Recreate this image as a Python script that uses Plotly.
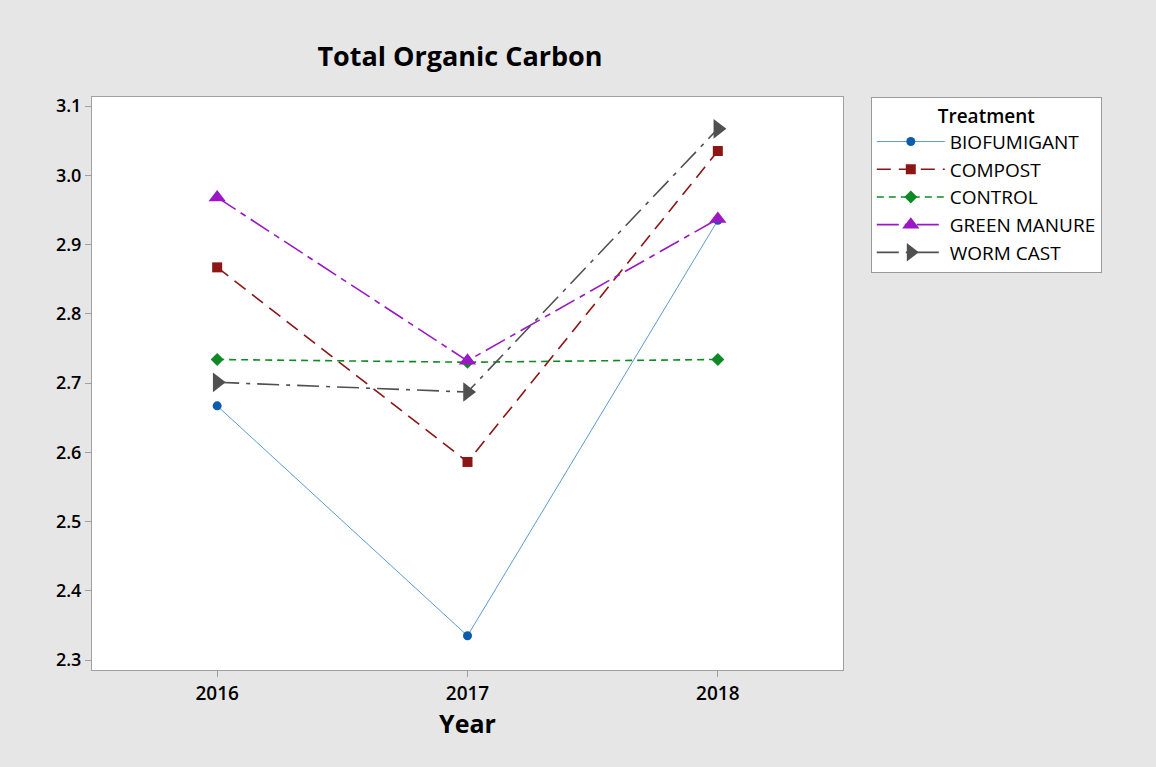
import plotly.graph_objects as go

years = [2016, 2017, 2018]
treatments = ["BIOFUMIGANT", "COMPOST", "CONTROL", "GREEN MANURE", "WORM CAST"]
biofumigant = [2.667, 2.335, 2.935]
compost = [2.867, 2.586, 3.035]
control = [2.734, 2.730, 2.734]
green_manure = [2.968, 2.732, 2.937]
worm_cast = [2.701, 2.687, 3.067]
series = [biofumigant, compost, control, green_manure, worm_cast]
y_ticks = [2.3, 2.4, 2.5, 2.6, 2.7, 2.8, 2.9, 3.0, 3.1]

line_colors = ["#5b9bd5", "#8c1515", "#0e8a25", "#9a19c4", "#505050"]
marker_colors = ["#0b5cad", "#8c1515", "#0e8a25", "#9a19c4", "#505050"]
dashes = ["solid", "14px,8px", "7px,5px", "22px,6px,6px,6px", "22px,7px,4px,7px"]
widths = [1, 1.6, 1.6, 1.6, 1.6]
symbols = ["circle", "square", "diamond", "triangle-up", "triangle-right"]
sizes = [9, 10, 10, 15, 17]

fig = go.Figure()
for name, vals, lc, mc, d, w, s, sz in zip(treatments, series, line_colors, marker_colors, dashes, widths, symbols, sizes):
    fig.add_trace(go.Scatter(
        x=years, y=vals, name=name, mode="lines+markers",
        line=dict(color=lc, dash=d, width=w),
        marker=dict(color=mc, symbol=s, size=sz, line=dict(width=0)),
    ))

FONT = "Open Sans, Noto Sans, sans-serif"
fig.update_layout(
    width=1156, height=767,
    paper_bgcolor="#e6e6e6", plot_bgcolor="white",
    margin=dict(l=92, r=313, t=97, b=97),
    font=dict(family=FONT, color="black"),
    title=dict(text="Total Organic Carbon", x=460 / 1156, xanchor="center",
               y=1 - 57 / 767, yanchor="middle",
               font=dict(size=27, family=FONT, weight=700)),
    legend=dict(
        title=dict(text="Treatment", font=dict(size=19, weight=600), side="top center"),
        x=1.037, xanchor="left", y=1.0, yanchor="top",
        bgcolor="white", bordercolor="#9a9a9a", borderwidth=1,
        font=dict(size=19, weight=500), tracegroupgap=0, itemwidth=68,
    ),
    showlegend=True,
)
fig.update_xaxes(
    range=[2015.5, 2018.5], tickvals=years, ticktext=[str(y) for y in years],
    showgrid=False, zeroline=False, showline=True, linecolor="#a0a0a0", mirror=True,
    ticks="outside", tickcolor="#a0a0a0", ticklen=6,
    tickfont=dict(size=19, weight=600),
    title=dict(text="Year", font=dict(size=25, weight=700), standoff=10),
)
fig.update_yaxes(
    range=[2.2856, 3.113], tickvals=y_ticks,
    ticktext=[f"{v:.1f}" for v in y_ticks],
    showgrid=False, zeroline=False, showline=True, linecolor="#a0a0a0", mirror=True,
    ticks="outside", tickcolor="#a0a0a0", ticklen=6, tickfont=dict(size=18, weight=600),
)

fig.write_html("out.html", config={"displayModeBar": False},
               post_script="document.body.style.margin='0';document.body.style.padding='0';")
